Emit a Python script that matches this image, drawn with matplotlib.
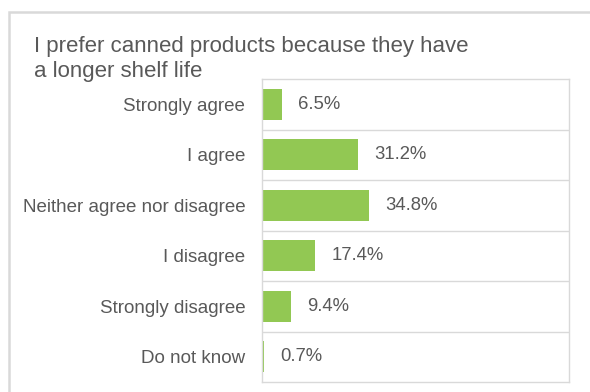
import matplotlib
matplotlib.use("Agg")
import matplotlib.pyplot as plt
from matplotlib.patches import Rectangle

categories = ["Strongly agree", "I agree", "Neither agree nor disagree",
              "I disagree", "Strongly disagree", "Do not know"]
values = [6.5, 31.2, 34.8, 17.4, 9.4, 0.7]
value_labels = ["6.5%", "31.2%", "34.8%", "17.4%", "9.4%", "0.7%"]
title = "I prefer canned products because they have\na longer shelf life"

plt.rcParams['font.family'] = ['Liberation Sans', 'DejaVu Sans']
TEXT = "#595959"
GRID = "#D9D9D9"
GREEN = "#92C853"

W, H = 590, 392
fig = plt.figure(figsize=(W / 100, H / 100), dpi=100)

# outer frame (clipped at the right and bottom edges)
fig.patches.append(Rectangle((9 / W, -0.1), 2, 1.1 - 12 / H, transform=fig.transFigure,
                             fill=False, edgecolor=GRID, linewidth=1.8))

left, right, top, bottom = 262, 569, 79, 382
ax = fig.add_axes([left / W, 1 - bottom / H, (right - left) / W, (bottom - top) / H])

n = len(categories)
y = list(range(n))
ax.barh(y, values, height=0.62, color=GREEN, zorder=2)
ax.set_ylim(n - 0.5, -0.5)
ax.set_xlim(0, 100)
for b in [i + 0.5 for i in range(n - 1)]:
    ax.axhline(b, color=GRID, linewidth=1.0, zorder=1)
for s in ax.spines.values():
    s.set_color(GRID)
    s.set_linewidth(1.0)
ax.set_xticks([])
ax.set_yticks(y)
ax.set_yticklabels(categories, fontsize=13.5, color=TEXT)
ax.tick_params(axis='y', length=0, pad=12)

for yi, v, lab in zip(y, values, value_labels):
    ax.annotate(lab, (v, yi), xytext=(16, 0), textcoords='offset pixels',
                va='center', ha='left', fontsize=13.3, color=TEXT)

for i, line in enumerate(title.split("\n")):
    fig.text(34 / W, 1 - (52 + 25 * i) / H, line, fontsize=16, color=TEXT,
             va='baseline', ha='left')

fig.savefig("out.png", dpi=100)
